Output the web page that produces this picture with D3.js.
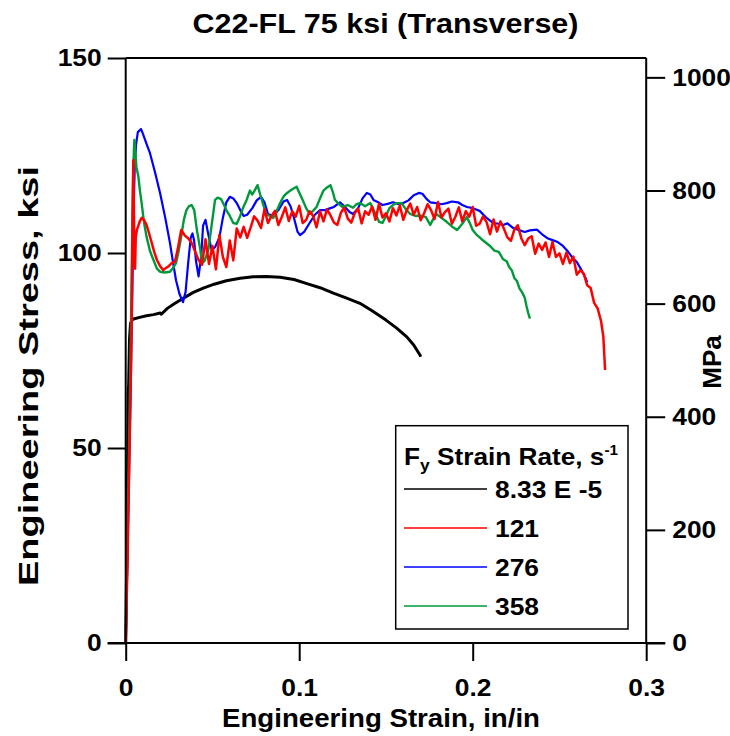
<!DOCTYPE html>
<html><head><meta charset="utf-8">
<script src="https://cdn.jsdelivr.net/npm/d3@7"></script>
<style>
body{margin:0;background:#fff}
text{font-family:"Liberation Sans",Arial,sans-serif;font-weight:bold;fill:#000}
</style>
</head><body>
<svg id="chart" width="730" height="736"></svg>
<script>
// ---------------- DATA ----------------
const titleText = "C22-FL 75 ksi (Transverse)";
const xTicks = [0, 0.1, 0.2, 0.3];
const yTicksKsi = [0, 50, 100, 150];
const yTicksMPa = [0, 200, 400, 600, 800, 1000];
const seriesNames = ["8.33 E -5", "121", "276", "358"];
const seriesColors = ["#000000", "#ff0000", "#0000ff", "#009a3a"];

const blackStrain = [0,0.0005,0.0009,0.0012,0.0015,0.0017,0.0022,0.0028,0.004,0.008,0.012,0.016,0.0199,0.0205,0.024,0.028,0.0332,0.039,0.0447,0.051,0.058,0.066,0.0735,0.081,0.089,0.097,0.104,0.112,0.1197,0.127,0.135,0.142,0.15,0.156,0.162,0.166,0.1697,0.170];
const blackStress = [0,18,35,50,65,66,78,82,83.0,83.5,83.9,84.2,84.6,84.3,85.8,87.0,88.4,89.9,91.0,92.0,92.9,93.5,93.9,94.0,93.8,93.2,92.2,91.1,89.7,88.5,87.1,85.2,82.8,80.8,78.5,76.4,73.8,73.4];

const blueStrain = [0,0.001,0.002,0.003,0.0038,0.0045,0.0052,0.006,0.007,0.0088,0.010,0.012,0.014,0.017,0.0198,0.0228,0.0255,0.0275,0.029,0.031,0.033,0.0345,0.036,0.0375,0.0385,0.0395,0.0405,0.042,0.0435,0.0446,0.046,0.0475,0.0495,0.0515,0.054,0.056,0.058,0.060,0.062,0.064,0.066,0.068,0.070,0.073,0.0755,0.078,0.080,0.082,0.085,0.088,0.091,0.093,0.095,0.097,0.099,0.1005,0.103,0.106,0.109,0.112,0.115,0.118,0.120,0.1235,0.126,0.129,0.131,0.134,0.1365,0.139,0.141,0.143,0.1456,0.148,0.151,0.154,0.157,0.160,0.163,0.166,0.169,0.171,0.1735,0.1755,0.179,0.182,0.185,0.188,0.1915,0.194,0.1967,0.200,0.204,0.208,0.2117,0.215,0.2175,0.220,0.223,0.226,0.230,0.233,0.237,0.240,0.243,0.246,0.249,0.252,0.255,0.2575,0.260,0.2625,0.2648,0.266];
const blueStress = [0,22,45,68,90,110,122,128,131,131.8,130.5,128,125.6,120.5,115.4,109,102.6,97,93,89.5,87.4,90,97.4,104,105,103,98,94,99,107,108.5,105,100.8,101.5,104,109,113,114.4,114,112.8,111,109.5,109.8,111.5,113.5,114.4,113,110,109.5,111,113.2,113.6,112,109,105.5,104.6,105.5,107.7,109.8,111,111,111.5,111.8,113,112,110.5,110,111.5,114,115.4,115,113.5,113,112.3,112.6,113,112.6,112.8,113.5,114.8,115.4,115.2,113.8,113,112.8,112.5,112.8,113.2,113,112.3,111.8,111.5,110.8,109,107.7,107.5,107.2,107.6,106.5,106,105.4,105.8,106,104.8,103.8,103.3,102.8,101.8,100.3,98.8,97.7,95.8,93.8,92.5];

const greenStrain = [0,0.001,0.002,0.003,0.0036,0.0042,0.0047,0.005,0.0055,0.0062,0.0073,0.0082,0.0092,0.0105,0.012,0.014,0.016,0.018,0.0198,0.0225,0.0255,0.0275,0.029,0.0305,0.032,0.0335,0.035,0.0365,0.038,0.0395,0.041,0.043,0.044,0.0455,0.0476,0.0495,0.0515,0.053,0.055,0.0565,0.058,0.060,0.062,0.064,0.066,0.068,0.0697,0.0716,0.073,0.0745,0.076,0.0775,0.079,0.081,0.083,0.085,0.087,0.089,0.091,0.093,0.0955,0.0985,0.100,0.102,0.104,0.106,0.108,0.110,0.112,0.114,0.116,0.118,0.1195,0.1206,0.123,0.125,0.128,0.131,0.133,0.135,0.138,0.141,0.144,0.146,0.148,0.150,0.152,0.154,0.156,0.159,0.1615,0.164,0.167,0.170,0.173,0.1755,0.177,0.179,0.182,0.185,0.188,0.191,0.194,0.1966,0.1985,0.200,0.202,0.204,0.206,0.208,0.210,0.2125,0.215,0.2175,0.2196,0.221,0.2225,0.224,0.2255,0.227,0.2285,0.230,0.231,0.232,0.233];
const greenStress = [0,25,52,80,100,118,126,129,126,122,119.6,116,112.8,108,104.2,100.5,98.2,96,95.2,95,95.2,96.3,97.4,100.5,104.2,108.5,111,112,112.3,111,106,100.8,97.4,98,100.8,107,113.6,114.2,113.8,112.5,111,109.5,107.7,107.5,109.5,112,113.6,116,115,116.2,117.4,115,112.8,110,109.5,109,110.8,112.8,114.5,115.4,116.2,117,115.5,113.6,111.5,110,110.8,111.8,114,116,116.8,117.4,115.5,113.6,112.5,111.8,112.3,111.6,112.5,112.8,112,112.8,110,108,107.7,109.5,111.5,112.3,112.8,112.8,111.2,110,109.5,109.6,109.2,107.2,108.5,110,109,108,106.8,105.9,107.5,109.2,107.5,105.9,104.8,104,103.2,102.5,101.8,100.6,100.3,98.4,97.9,96.4,95.6,93.6,92.8,90.9,89.9,88.5,86.4,84.6,83.2,81.5];

const redStrain = [0,0.001,0.002,0.003,0.0035,0.004,0.0044,0.0047,0.005,0.0054,0.0058,0.0065,0.0073,0.0082,0.0092,0.0105,0.012,0.0135,0.015,0.0165,0.018,0.020,0.0217,0.0232,0.0245,0.0265,0.0284,0.030,0.032,0.034,0.036,0.038,0.040,0.042,0.044,
0.046,0.048,0.050,0.052,0.054,0.056,0.058,0.060,0.062,0.064,0.066,0.068,0.070,0.072,0.074,0.076,0.078,0.080,0.082,0.084,0.086,0.088,0.090,0.092,0.094,0.096,0.098,0.100,0.102,0.104,0.106,0.108,0.110,0.112,0.114,0.116,0.118,0.120,0.122,0.124,0.126,0.128,0.130,0.132,0.134,0.136,0.138,0.140,0.142,0.144,0.146,0.148,0.150,0.152,0.154,0.156,0.158,0.160,0.162,0.164,0.166,0.168,0.170,0.172,0.174,0.176,0.178,0.180,0.182,0.184,0.186,0.188,0.190,0.192,0.194,0.196,0.198,0.200,0.202,0.204,0.206,0.208,0.210,0.212,0.214,0.216,0.218,0.220,0.222,0.224,0.226,0.228,0.230,0.232,0.234,0.236,0.238,0.240,0.242,0.244,0.246,0.248,0.250,0.252,0.254,0.256,0.258,0.260,0.262,0.264,0.266,0.268,0.270,0.272,0.274,0.2753,0.2763];
const redStress = [0,20,45,70,85,110,123.8,112,100,96,104,106,107,108.2,109,108.5,107.2,105,102.6,100.2,98.2,96.5,95.6,96.2,96.5,97.4,97.8,101,105.9,104.5,103.8,102.6,100.4,98.2,97,
103.5,97.2,101.8,95.8,104.6,99.0,96.4,103.2,98.1,106.3,104.0,106.7,103.9,106.5,109.4,108.3,106.4,111.2,107.7,109.5,110.8,107.2,109.3,111.7,108.2,110.7,109.3,112.1,107.7,108.5,110.7,109.5,106.6,110.7,108.1,111.2,109.7,107.8,107.2,110.3,111.6,108.8,107.8,110.2,111.4,107.6,110.7,109.8,111.9,108.5,112.6,109.1,110.2,108.1,111.5,109.6,112.2,108.5,111.0,112.7,109.8,111.8,108.4,110.2,112.5,111.0,108.7,113.1,109.1,110.5,111.4,107.5,109.3,111.7,108.1,110.7,109.3,111.8,107.0,107.5,109.4,107.9,104.8,108.6,105.5,108.1,106.2,104.0,103.1,106.0,107.1,103.8,102.0,103.7,104.3,99.8,102.4,100.8,102.7,99.0,102.8,99.0,99.9,97.2,100.1,97.4,99.1,94.4,95.6,94.7,91.7,91.0,87.2,85.8,82.5,78.5,70];

// ---------------- LAYOUT ----------------
const svg = d3.select("#chart");
const X0 = 125.7, X1 = 646.2, Y0 = 643, Y1 = 58;
const KSI_TO_MPA = 6.894757;
const x = d3.scaleLinear().domain([0, 0.3]).range([X0, X1]);
const y = d3.scaleLinear().domain([0, 150]).range([Y0, Y1]);
const yR = d3.scaleLinear().domain([0, 150 * KSI_TO_MPA]).range([Y0, Y1]);

function stretch(sel, f) {
  sel.each(function () {
    const L = this.getComputedTextLength();
    d3.select(this).attr("textLength", L * f).attr("lengthAdjust", "spacingAndGlyphs");
  });
}

// curves
const line = d3.line().x(d => x(d[0])).y(d => y(d[1]));
const zip = (a, b) => a.map((v, i) => [v, b[i]]);
const curves = [
  { s: blackStrain, v: blackStress, c: seriesColors[0], w: 3 },
  { s: blueStrain, v: blueStress, c: seriesColors[2], w: 2.2 },
  { s: greenStrain, v: greenStress, c: seriesColors[3], w: 2.4 },
  { s: redStrain, v: redStress, c: seriesColors[1], w: 2.5 }
];
svg.append("g").selectAll("path").data(curves).join("path")
  .attr("d", d => line(zip(d.s, d.v)))
  .attr("fill", "none").attr("stroke", d => d.c).attr("stroke-width", d => d.w)
  .attr("stroke-linejoin", "round");

// axes
const axStroke = g => { g.selectAll("path,line").attr("stroke", "#000").attr("stroke-width", 2); g.selectAll("text").attr("font-size", 24).attr("font-family", null).attr("font-weight", "bold").attr("fill", "#000"); };

const gL = svg.append("g").attr("transform", `translate(${X0},0)`)
  .call(d3.axisLeft(y).tickValues(yTicksKsi).tickSize(18).tickSizeOuter(0).tickPadding(6).tickFormat(d3.format("d")))
  .call(axStroke);
gL.select(".domain").remove();

const gR = svg.append("g").attr("transform", `translate(${X1},0)`)
  .call(d3.axisRight(yR).tickValues(yTicksMPa).tickSize(19).tickSizeOuter(0).tickPadding(7).tickFormat(d3.format("d")))
  .call(axStroke);
gR.select(".domain").remove();

const gB = svg.append("g").attr("transform", `translate(0,${Y0})`)
  .call(d3.axisBottom(x).tickValues(xTicks).tickSize(18).tickSizeOuter(0).tickPadding(18).tickFormat(d => d === 0 ? "0" : d3.format(".1f")(d)))
  .call(axStroke);
gB.select(".domain").remove();

stretch(svg.selectAll(".tick text"), 1.1);

// frame lines
const frame = svg.append("g").attr("stroke", "#000").attr("stroke-width", 2).attr("fill", "none");
frame.append("line").attr("x1", X0).attr("x2", X0).attr("y1", y(150)).attr("y2", Y0);
frame.append("line").attr("x1", X1).attr("x2", X1).attr("y1", y(150)).attr("y2", Y0);
frame.append("line").attr("x1", X0 - 18).attr("x2", X1 + 19).attr("y1", Y0).attr("y2", Y0);
frame.append("line").attr("x1", X0).attr("x2", X1).attr("y1", y(150)).attr("y2", y(150));

// titles
svg.append("text").attr("x", 385.5).attr("y", 33).attr("text-anchor", "middle")
  .attr("font-size", 28).attr("textLength", 386).attr("lengthAdjust", "spacingAndGlyphs").text(titleText);
svg.append("text").attr("x", 381).attr("y", 727).attr("text-anchor", "middle")
  .attr("font-size", 26).attr("textLength", 318).attr("lengthAdjust", "spacingAndGlyphs").text("Engineering Strain, in/in");
svg.append("text").attr("transform", "translate(38,376) rotate(-90)").attr("text-anchor", "middle")
  .attr("font-size", 27).attr("textLength", 420).attr("lengthAdjust", "spacingAndGlyphs").text("Engineering Stress, ksi");
svg.append("text").attr("transform", "translate(721,362) rotate(-90)").attr("text-anchor", "middle")
  .attr("font-size", 26).text("MPa");

// legend
const lg = svg.append("g");
lg.append("rect").attr("x", 395.7).attr("y", 425.7).attr("width", 232.3).attr("height", 203.3)
  .attr("fill", "#fff").attr("stroke", "#000").attr("stroke-width", 1.5);
const lgTitle = lg.append("text").attr("x", 404).attr("y", 465).attr("font-size", 24)
  .attr("textLength", 214).attr("lengthAdjust", "spacingAndGlyphs");
lgTitle.append("tspan").text("F");
lgTitle.append("tspan").attr("font-size", 16).attr("dy", 6).text("y");
lgTitle.append("tspan").attr("dy", -6).text(" Strain Rate, s");
lgTitle.append("tspan").attr("font-size", 14).attr("dy", -10).text("-1");
const entryY = [489, 528, 567, 606];
const rows = lg.selectAll("g.row").data(seriesNames).join("g").attr("class", "row")
  .attr("transform", (d, i) => `translate(0,${entryY[i]})`);
rows.append("line").attr("x1", 404).attr("x2", 487).attr("y1", 0).attr("y2", 0)
  .attr("stroke", (d, i) => seriesColors[i]).attr("stroke-width", 1.6);
const rowText = rows.append("text").attr("x", 495).attr("y", 0).attr("dy", "0.36em").attr("font-size", 24).text(d => d);
stretch(rowText, 1.1);
</script>
</body></html>
